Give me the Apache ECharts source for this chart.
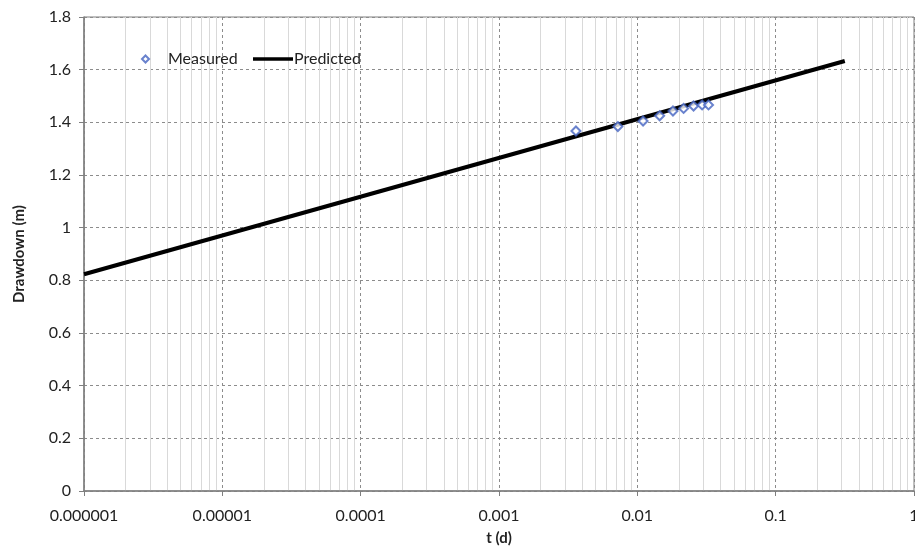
<!DOCTYPE html>
<html>
<head>
<meta charset="utf-8">
<script src="https://cdn.jsdelivr.net/npm/echarts@6/dist/echarts.min.js"></script>
<style>
  html, body { margin: 0; padding: 0; background: #fff; }
  #chart { width: 915px; height: 546px; }
</style>
</head>
<body>
<div id="chart"></div>
<script>
// Measured drawdown vs time
const measuredT = [0.0036, 0.00723, 0.011, 0.0145, 0.0181, 0.0216, 0.0255, 0.0294, 0.0327];
const measuredS = [1.367, 1.384, 1.405, 1.425, 1.443, 1.453, 1.462, 1.466, 1.466];

// Predicted straight line (semi-log), end points
const predictedT = [0.000001, 0.316];
const predictedS = [0.823, 1.633];

// Axis tick labels
const xTickLabels = ['0.000001', '0.00001', '0.0001', '0.001', '0.01', '0.1', '1'];

// Minor vertical grid positions (2..9 within each decade)
const minorX = [];
for (let d = -6; d <= -1; d++) {
  for (let m = 2; m <= 9; m++) minorX.push(m * Math.pow(10, d));
}

const font = 'Lato, "Open Sans", sans-serif';
const chart = echarts.init(document.getElementById('chart'));

chart.setOption({
  animation: false,
  backgroundColor: '#ffffff',
  grid: {
    left: 84, right: 1, top: 17, bottom: 55,
    outerBoundsMode: 'none', containLabel: false,
    show: true, borderColor: '#7f7f7f', borderWidth: 1, backgroundColor: '#ffffff'
  },
  legend: [
    {
      data: ['Measured'],
      left: 136, top: 46,
      icon: 'diamond', itemWidth: 7, itemHeight: 7,
      textStyle: { fontFamily: font, fontSize: 16, color: '#222', padding: [0, 0, 0, 14] }
    },
    {
      data: ['Predicted'],
      left: 248, top: 46,
      icon: 'rect', itemWidth: 40, itemHeight: 3.5,
      textStyle: { fontFamily: font, fontSize: 16, color: '#222', padding: [0, 0, 0, -4] }
    }
  ],
  xAxis: {
    type: 'log', logBase: 10, min: 0.000001, max: 1,
    name: 't (d)', nameLocation: 'middle', nameGap: 40,
    nameTextStyle: { fontFamily: font, fontSize: 15, fontWeight: 'bold', color: '#222' },
    axisLine: { lineStyle: { color: '#7f7f7f', width: 1.5 } },
    axisTick: { show: true, length: 5, lineStyle: { color: '#7f7f7f' } },
    axisLabel: {
      fontFamily: font, fontSize: 16, color: '#222', margin: 17,
      formatter: v => xTickLabels[Math.round(Math.log10(v)) + 6] || ''
    },
    splitLine: { show: true, lineStyle: { color: '#8c8c8c', type: [3, 3], width: 1 } }
  },
  yAxis: {
    type: 'value', min: 0, max: 1.8, interval: 0.2,
    name: 'Drawdown (m)', nameLocation: 'middle', nameGap: 57, nameRotate: 90,
    nameTextStyle: { fontFamily: font, fontSize: 15, fontWeight: 'bold', color: '#222' },
    axisLine: { show: true, lineStyle: { color: '#7f7f7f', width: 1.5 } },
    axisTick: { show: true, length: 5, lineStyle: { color: '#7f7f7f' } },
    axisLabel: {
      fontFamily: font, fontSize: 16, color: '#222', margin: 13,
      formatter: v => String(Math.round(v * 10) / 10)
    },
    splitLine: { show: true, lineStyle: { color: '#8c8c8c', type: [3, 3], width: 1 } }
  },
  series: [
    {
      // minor vertical grid lines
      name: 'minor-grid',
      type: 'lines',
      coordinateSystem: 'cartesian2d',
      silent: true,
      z: 0,
      lineStyle: { color: '#d9d9d9', type: 'solid', width: 1, opacity: 1 },
      data: minorX.map(v => ({ coords: [[v, 0], [v, 1.8]] }))
    },
    {
      name: 'Predicted',
      type: 'line',
      data: predictedT.map((t, i) => [t, predictedS[i]]),
      showSymbol: false,
      symbol: 'none',
      lineStyle: { color: '#000000', width: 4 },
      itemStyle: { color: '#000000' },
      z: 3
    },
    {
      name: 'Measured',
      type: 'scatter',
      data: measuredT.map((t, i) => [t, measuredS[i]]),
      symbol: 'diamond',
      symbolSize: 9,
      itemStyle: { color: '#ffffff', borderColor: '#4363c0', borderWidth: 2 },
      z: 4
    }
  ]
});
</script>
</body>
</html>
